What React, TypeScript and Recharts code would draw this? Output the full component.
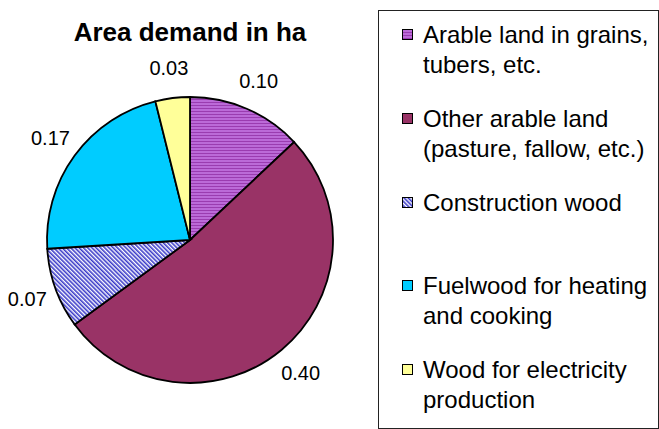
import { PieChart, Pie, Cell, Legend } from 'recharts'

const categories = [
  'Arable land in grains, tubers, etc.',
  'Other arable land (pasture, fallow, etc.)',
  'Construction wood',
  'Fuelwood for heating and cooking',
  'Wood for electricity production',
]
const legendLines = [
  ['Arable land in grains,', 'tubers, etc.'],
  ['Other arable land', '(pasture, fallow, etc.)'],
  ['Construction wood'],
  ['Fuelwood for heating', 'and cooking'],
  ['Wood for electricity', 'production'],
]
const values = [0.1, 0.4, 0.07, 0.17, 0.03]
const fills = ['url(#stripePurple)', '#993366', 'url(#hatchBlue)', '#00ccff', '#ffff99']

const data = categories.map((name, i) => ({ name, value: values[i] }))

const FONT = '"Liberation Sans", Arial, sans-serif'
const RAD = Math.PI / 180

function renderLabel(props: any) {
  const { cx, cy, midAngle, outerRadius, value } = props
  const r = outerRadius + 30
  const x = cx + r * Math.cos(-midAngle * RAD)
  const y = cy + r * Math.sin(-midAngle * RAD)
  return (
    <text x={x} y={y} textAnchor="middle" dominantBaseline="central" style={{ fontSize: 20, fontFamily: FONT }} fill="#000">
      {value.toFixed(2)}
    </text>
  )
}

function LegendBox() {
  return (
    <div
      style={{
        position: 'relative',
        width: 279,
        height: 417,
        border: '1px solid #222',
        fontFamily: FONT,
        fontSize: 24,
        lineHeight: '30px',
        color: '#000',
        background: '#fff',
      }}
    >
      {legendLines.map((lines, i) => (
        <div key={i} style={{ position: 'absolute', left: 44, top: 9 + i * 83.75 }}>
          <svg width={12} height={12} style={{ position: 'absolute', left: -21, top: 9 }}>
            <rect x={0.5} y={0.5} width={10} height={10} fill={fills[i]} stroke="#000" strokeWidth={1} />
          </svg>
          {lines.map((t, j) => (
            <div key={j} style={{ whiteSpace: 'nowrap' }}>{t}</div>
          ))}
        </div>
      ))}
    </div>
  )
}

export default function App() {
  return (
    <div style={{ position: 'absolute', left: 0, top: 0, width: 659, height: 429, background: '#fff' }}>
      <div
        style={{
          position: 'absolute',
          left: 0,
          width: 380,
          top: 17,
          textAlign: 'center',
          fontFamily: FONT,
          fontWeight: 'bold',
          fontSize: 26,
          lineHeight: '30px',
        }}
      >
        Area demand in ha
      </div>
      <PieChart width={659} height={429} margin={{ top: 0, right: 0, bottom: 0, left: 0 }}>
        <defs>
          <pattern id="stripePurple" width={4} height={3} patternUnits="userSpaceOnUse">
            <rect width={4} height={3} fill="#bb6ad8" />
            <rect width={4} height={1} fill="#9a3cb0" />
          </pattern>
          <pattern id="hatchBlue" width={3} height={3} patternUnits="userSpaceOnUse" patternTransform="rotate(-45)">
            <rect width={3} height={3} fill="#ffffff" />
            <rect width={1.6} height={3} fill="#3a3ac8" />
          </pattern>
        </defs>
        <Pie
          data={data}
          dataKey="value"
          nameKey="name"
          cx={190}
          cy={240}
          outerRadius={143}
          startAngle={90}
          endAngle={-270}
          stroke="#000"
          strokeWidth={1.8}
          label={renderLabel}
          labelLine={false}
          isAnimationActive={false}
        >
          {data.map((d, i) => (
            <Cell key={d.name} fill={fills[i]} />
          ))}
        </Pie>
        <Legend
          layout="vertical"
          align="right"
          verticalAlign="top"
          content={() => <LegendBox />}
          wrapperStyle={{ left: 378, top: 10, right: 'auto', bottom: 'auto', width: 281, height: 419 }}
        />
      </PieChart>
    </div>
  )
}
